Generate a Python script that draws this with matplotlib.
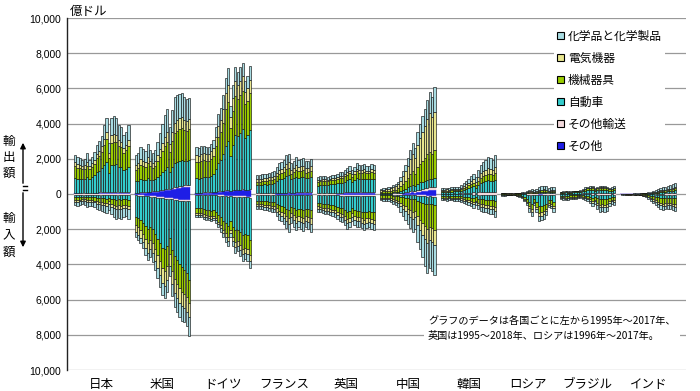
import matplotlib
matplotlib.use("Agg")
import numpy as np
import matplotlib.pyplot as plt
from matplotlib.patches import Patch
from matplotlib.lines import Line2D
from matplotlib.ticker import FuncFormatter

plt.rcParams["font.family"] = ["Noto Sans CJK JP", "DejaVu Sans"]

# legend order (top to bottom)
categories = ["化学品と化学製品", "電気機器", "機械器具", "自動車", "その他輸送", "その他"]
cat_colors = ["#a8dce2", "#e8e68e", "#99cc00", "#33cccc", "#f2d9dc", "#1e1ee6"]

countries = ["日本", "米国", "ドイツ", "フランス", "英国", "中国", "韓国", "ロシア", "ブラジル", "インド"]

# each country: rows stacked outward from zero
# [その他, その他輸送, 自動車, 機械器具, 電気機器, 化学品と化学製品]  (億ドル)
jp_exp = [
    [30, 30, 25, 25, 25, 30, 25, 25, 30, 35, 40, 45, 50, 50, 40, 50, 50, 50, 45, 45, 40, 40, 45],
    [40, 40, 40, 35, 35, 40, 35, 35, 40, 45, 50, 55, 60, 70, 50, 70, 70, 70, 65, 65, 55, 55, 60],
    [850, 780, 800, 780, 800, 880, 800, 900, 1000, 1150, 1200, 1350, 1550, 1700, 1100, 1500, 1500, 1600, 1450, 1400, 1250, 1350, 1450],
    [650, 620, 600, 560, 570, 650, 560, 580, 650, 800, 870, 950, 1150, 1300, 850, 1300, 1350, 1250, 1150, 1150, 1000, 1050, 1200],
    [230, 220, 210, 190, 200, 240, 190, 200, 220, 270, 280, 300, 340, 380, 270, 420, 430, 380, 330, 320, 280, 300, 330],
    [400, 410, 380, 370, 380, 470, 350, 370, 420, 500, 560, 600, 770, 820, 600, 980, 1020, 970, 870, 830, 700, 720, 820],
]
jp_imp = [
    [15, 15, 15, 15, 15, 15, 15, 15, 15, 20, 20, 25, 25, 25, 20, 25, 25, 25, 25, 25, 25, 25, 25],
    [15, 15, 15, 15, 15, 15, 15, 15, 20, 20, 20, 20, 20, 25, 20, 25, 25, 25, 25, 25, 25, 25, 25],
    [140, 150, 140, 120, 120, 140, 140, 140, 150, 170, 180, 190, 200, 210, 160, 220, 250, 280, 260, 270, 250, 240, 280],
    [170, 175, 165, 145, 150, 180, 175, 170, 190, 210, 225, 240, 250, 270, 220, 280, 320, 340, 330, 340, 320, 310, 340],
    [90, 95, 90, 80, 85, 110, 100, 95, 105, 120, 125, 130, 140, 150, 130, 170, 200, 210, 200, 210, 190, 180, 200],
    [220, 230, 225, 205, 215, 260, 255, 245, 270, 310, 330, 345, 365, 420, 350, 430, 480, 520, 510, 530, 490, 470, 530],
]
us_exp = [
    [40, 50, 60, 70, 80, 90, 100, 110, 120, 140, 160, 180, 200, 230, 210, 260, 300, 330, 360, 380, 390, 400, 400],
    [30, 30, 35, 35, 35, 40, 40, 40, 45, 50, 55, 60, 70, 80, 70, 80, 90, 95, 100, 100, 100, 100, 100],
    [650, 680, 740, 700, 680, 760, 680, 640, 680, 780, 880, 1000, 1100, 1200, 950, 1200, 1350, 1400, 1420, 1430, 1400, 1380, 1430],
    [660, 710, 800, 770, 740, 870, 760, 700, 740, 880, 1020, 1200, 1350, 1450, 1150, 1450, 1700, 1750, 1800, 1850, 1750, 1700, 1750],
    [270, 290, 330, 320, 300, 360, 310, 280, 300, 360, 420, 480, 540, 580, 440, 560, 620, 630, 640, 640, 590, 560, 560],
    [550, 590, 685, 655, 615, 730, 610, 580, 615, 740, 915, 1080, 1240, 1310, 980, 1200, 1440, 1395, 1380, 1350, 1270, 1260, 1210],
]
us_imp = [
    [50, 60, 70, 80, 90, 100, 110, 120, 130, 150, 170, 190, 210, 230, 220, 250, 280, 300, 320, 330, 340, 340, 340],
    [30, 30, 35, 35, 40, 40, 40, 40, 45, 50, 55, 55, 60, 60, 55, 60, 60, 60, 60, 60, 60, 60, 60],
    [1200, 1290, 1380, 1510, 1700, 1850, 1720, 1850, 2100, 2330, 2550, 2800, 2880, 2650, 2200, 2850, 3200, 3400, 3600, 3750, 3900, 4100, 4500],
    [480, 520, 560, 620, 700, 770, 720, 770, 860, 960, 1060, 1160, 1200, 1150, 950, 1200, 1300, 1350, 1380, 1400, 1380, 1380, 1300],
    [380, 410, 440, 480, 540, 600, 560, 590, 650, 720, 780, 830, 850, 780, 650, 750, 780, 800, 820, 830, 820, 810, 800],
    [280, 300, 315, 365, 390, 390, 410, 470, 535, 580, 645, 705, 720, 680, 575, 690, 780, 790, 820, 830, 800, 810, 1050],
]
de_exp = [
    [60, 60, 65, 70, 70, 70, 80, 90, 100, 120, 130, 150, 170, 190, 150, 180, 200, 200, 200, 210, 200, 200, 210],
    [20, 20, 20, 20, 20, 20, 25, 25, 30, 35, 40, 45, 50, 55, 45, 50, 55, 55, 55, 60, 55, 55, 60],
    [820, 800, 850, 880, 850, 860, 930, 1010, 1300, 1600, 1750, 2050, 2500, 2750, 1950, 2550, 3100, 3050, 3200, 3400, 2950, 3100, 3380],
    [930, 910, 950, 960, 930, 920, 980, 1050, 1280, 1500, 1600, 1800, 2100, 2250, 1600, 1950, 2200, 2100, 2150, 2200, 1900, 1950, 2080],
    [380, 380, 390, 400, 380, 380, 400, 420, 520, 620, 680, 770, 900, 950, 650, 750, 850, 800, 820, 830, 680, 700, 760],
    [440, 430, 425, 420, 400, 400, 435, 455, 570, 675, 700, 785, 880, 955, 605, 720, 795, 745, 775, 750, 615, 695, 760],
]
de_imp = [
    [40, 40, 40, 45, 45, 50, 50, 50, 55, 65, 75, 85, 95, 105, 95, 110, 125, 125, 135, 140, 140, 145, 150],
    [20, 20, 20, 20, 20, 25, 25, 25, 25, 30, 30, 35, 35, 40, 35, 40, 45, 45, 45, 50, 50, 50, 50],
    [750, 760, 760, 800, 830, 850, 880, 850, 940, 1080, 1230, 1400, 1540, 1680, 1400, 1700, 1900, 1850, 2000, 2150, 2100, 2150, 2400],
    [270, 275, 280, 295, 300, 310, 320, 310, 340, 390, 440, 500, 560, 610, 500, 590, 680, 660, 720, 780, 760, 780, 860],
    [110, 115, 115, 120, 125, 130, 135, 130, 140, 160, 180, 200, 220, 240, 200, 240, 270, 260, 290, 300, 290, 300, 330],
    [110, 110, 115, 120, 130, 135, 140, 135, 150, 175, 195, 230, 250, 275, 220, 270, 330, 310, 360, 380, 360, 375, 410],
]
fr_exp = [
    [20, 20, 20, 20, 20, 25, 25, 25, 30, 30, 35, 35, 40, 40, 35, 35, 40, 40, 40, 40, 40, 40, 40],
    [20, 20, 20, 20, 20, 25, 25, 25, 30, 35, 35, 40, 45, 50, 40, 45, 50, 50, 50, 55, 50, 50, 55],
    [470, 470, 480, 500, 490, 520, 540, 570, 680, 780, 790, 850, 960, 1000, 760, 820, 900, 840, 860, 880, 800, 820, 860],
    [200, 200, 205, 210, 205, 215, 225, 235, 280, 310, 320, 350, 390, 410, 310, 340, 380, 350, 360, 370, 330, 340, 360],
    [150, 150, 150, 155, 150, 160, 165, 170, 200, 230, 235, 255, 285, 300, 225, 250, 280, 255, 265, 270, 240, 245, 260],
    [240, 240, 245, 245, 245, 255, 270, 275, 330, 365, 385, 420, 480, 500, 380, 410, 450, 415, 425, 435, 390, 405, 425],
]
fr_imp = [
    [20, 20, 20, 20, 20, 25, 25, 25, 30, 30, 35, 35, 40, 40, 35, 35, 40, 40, 40, 40, 40, 40, 40],
    [15, 15, 15, 15, 15, 20, 20, 20, 25, 25, 25, 30, 30, 35, 30, 30, 35, 35, 35, 35, 35, 35, 35],
    [340, 350, 355, 370, 375, 390, 400, 420, 500, 580, 620, 680, 780, 860, 660, 740, 820, 760, 800, 840, 760, 800, 860],
    [180, 185, 185, 195, 195, 205, 210, 220, 260, 305, 325, 355, 410, 450, 345, 390, 430, 400, 420, 440, 400, 420, 450],
    [125, 125, 130, 135, 140, 145, 150, 155, 185, 215, 230, 250, 290, 320, 245, 275, 305, 280, 295, 310, 280, 295, 320],
    [170, 175, 175, 185, 185, 195, 195, 210, 250, 295, 315, 350, 400, 445, 335, 380, 420, 385, 410, 435, 385, 410, 445],
]
uk_exp = [
    [20, 20, 20, 20, 20, 20, 25, 25, 25, 25, 25, 30, 30, 35, 30, 35, 35, 35, 35, 35, 35, 35, 35, 35],
    [40, 40, 45, 45, 45, 50, 50, 50, 55, 55, 55, 60, 65, 70, 60, 70, 75, 75, 75, 75, 70, 70, 75, 75],
    [420, 440, 470, 450, 440, 470, 490, 490, 520, 560, 560, 610, 680, 720, 600, 700, 790, 740, 740, 770, 720, 720, 770, 740],
    [210, 220, 230, 220, 215, 230, 245, 245, 250, 280, 280, 300, 330, 350, 300, 340, 385, 360, 360, 370, 350, 350, 370, 360],
    [90, 95, 100, 95, 90, 100, 105, 105, 110, 120, 120, 130, 140, 150, 125, 145, 160, 155, 155, 160, 150, 150, 160, 155],
    [170, 185, 185, 170, 170, 180, 185, 185, 190, 210, 210, 220, 255, 275, 235, 260, 305, 285, 285, 290, 275, 275, 290, 285],
]
uk_imp = [
    [20, 20, 20, 25, 25, 25, 25, 25, 30, 30, 30, 35, 40, 40, 30, 35, 35, 35, 40, 40, 40, 40, 40, 40],
    [40, 40, 45, 45, 45, 50, 50, 55, 55, 60, 65, 70, 80, 75, 60, 70, 75, 75, 80, 80, 80, 75, 80, 80],
    [450, 475, 500, 520, 520, 540, 560, 590, 630, 700, 720, 790, 900, 850, 700, 790, 830, 830, 880, 920, 880, 860, 900, 920],
    [200, 210, 220, 230, 230, 240, 250, 260, 280, 310, 320, 350, 400, 380, 310, 350, 370, 370, 390, 410, 390, 380, 400, 410],
    [120, 125, 130, 140, 140, 145, 150, 155, 170, 185, 190, 210, 240, 230, 185, 210, 220, 225, 235, 245, 235, 225, 240, 245],
    [170, 180, 185, 190, 190, 200, 215, 215, 235, 265, 275, 295, 340, 325, 265, 295, 320, 315, 325, 355, 325, 320, 340, 355],
]
cn_exp = [
    [10, 10, 10, 12, 14, 16, 18, 22, 30, 40, 50, 60, 75, 90, 80, 110, 130, 150, 170, 190, 210, 200, 230],
    [10, 10, 12, 12, 14, 16, 18, 22, 30, 40, 50, 60, 75, 90, 85, 110, 125, 140, 155, 170, 180, 175, 190],
    [40, 42, 45, 50, 55, 65, 72, 90, 120, 160, 200, 250, 300, 340, 290, 370, 400, 420, 440, 460, 470, 450, 470],
    [80, 85, 95, 100, 110, 130, 145, 180, 250, 340, 430, 540, 660, 770, 700, 940, 1070, 1190, 1300, 1430, 1540, 1450, 1610],
    [90, 96, 105, 114, 127, 153, 177, 226, 310, 430, 560, 700, 860, 1000, 910, 1240, 1450, 1650, 1820, 2030, 2210, 2100, 2180],
    [70, 77, 83, 92, 100, 120, 130, 160, 210, 290, 360, 440, 530, 610, 535, 730, 825, 900, 965, 1070, 1190, 1125, 1420],
]
cn_imp = [
    [10, 10, 10, 12, 14, 16, 18, 20, 25, 30, 35, 40, 45, 50, 45, 60, 70, 80, 85, 95, 90, 95, 100],
    [10, 10, 10, 10, 12, 14, 16, 18, 20, 22, 25, 28, 30, 32, 30, 38, 42, 45, 48, 50, 48, 48, 50],
    [40, 45, 45, 45, 50, 60, 65, 80, 110, 140, 150, 180, 210, 230, 220, 300, 350, 380, 420, 450, 420, 440, 470],
    [140, 150, 155, 160, 175, 210, 230, 275, 360, 440, 500, 580, 650, 700, 650, 870, 1000, 1120, 1260, 1380, 1300, 1330, 1430],
    [60, 65, 70, 75, 80, 100, 110, 130, 180, 230, 270, 320, 370, 410, 380, 510, 600, 680, 760, 830, 770, 800, 850],
    [90, 100, 110, 118, 129, 160, 181, 227, 305, 388, 470, 552, 645, 728, 675, 922, 1088, 1295, 1527, 1695, 1572, 1637, 1700],
]
kr_exp = [
    [5, 5, 5, 5, 5, 6, 6, 7, 8, 10, 12, 13, 15, 17, 15, 18, 20, 20, 20, 20, 20, 20, 20],
    [20, 20, 20, 20, 22, 25, 22, 25, 30, 40, 45, 55, 65, 75, 65, 85, 100, 105, 110, 110, 100, 95, 100],
    [100, 105, 110, 105, 115, 125, 115, 125, 150, 195, 225, 265, 300, 345, 280, 400, 490, 540, 590, 640, 630, 600, 680],
    [55, 57, 60, 58, 65, 72, 65, 72, 85, 110, 130, 155, 180, 210, 175, 245, 300, 330, 350, 370, 360, 345, 390],
    [60, 62, 63, 60, 68, 75, 68, 75, 90, 115, 130, 150, 170, 190, 160, 230, 270, 290, 310, 340, 330, 320, 360],
    [90, 91, 92, 92, 105, 117, 104, 116, 137, 180, 208, 242, 270, 313, 255, 372, 470, 515, 570, 620, 610, 570, 650],
]
kr_imp = [
    [5, 5, 5, 5, 5, 5, 5, 5, 6, 7, 8, 9, 10, 11, 10, 12, 13, 13, 14, 15, 15, 15, 15],
    [10, 10, 10, 9, 9, 10, 10, 10, 11, 13, 14, 15, 17, 19, 16, 20, 22, 23, 24, 25, 25, 25, 28],
    [90, 95, 100, 90, 92, 105, 100, 103, 116, 140, 153, 170, 188, 205, 170, 225, 260, 265, 280, 290, 305, 305, 345],
    [95, 97, 102, 92, 95, 108, 102, 105, 118, 143, 157, 173, 192, 210, 175, 230, 265, 270, 283, 297, 310, 310, 350],
    [55, 57, 60, 53, 55, 64, 60, 62, 70, 84, 92, 102, 113, 124, 104, 136, 156, 160, 167, 175, 183, 183, 208],
    [95, 96, 103, 91, 94, 108, 103, 105, 119, 143, 156, 171, 190, 211, 175, 227, 264, 269, 282, 298, 312, 312, 354],
]
ru_exp = [
    [3, 3, 3, 3, 3, 3, 3, 4, 5, 6, 8, 10, 12, 8, 10, 12, 14, 15, 14, 12, 12, 13],
    [10, 10, 9, 8, 9, 10, 11, 13, 15, 18, 22, 28, 32, 25, 30, 40, 45, 48, 45, 38, 40, 45],
    [5, 5, 5, 4, 5, 5, 6, 8, 10, 14, 20, 30, 38, 22, 32, 45, 55, 57, 52, 40, 45, 50],
    [12, 12, 11, 10, 11, 12, 13, 16, 20, 26, 36, 50, 60, 40, 55, 75, 90, 95, 88, 70, 75, 85],
    [5, 5, 4, 4, 4, 5, 6, 7, 9, 12, 17, 25, 30, 20, 28, 38, 45, 47, 44, 35, 38, 42],
    [25, 25, 23, 21, 23, 25, 26, 32, 41, 54, 77, 107, 128, 85, 125, 170, 201, 208, 197, 155, 170, 185],
]
ru_imp = [
    [2, 2, 2, 1, 1, 2, 2, 3, 5, 8, 12, 20, 25, 13, 21, 31, 30, 28, 24, 15, 16, 20],
    [3, 3, 2, 2, 2, 2, 3, 5, 7, 12, 19, 30, 37, 20, 31, 46, 45, 42, 36, 22, 24, 30],
    [36, 36, 32, 24, 24, 32, 44, 64, 96, 160, 248, 400, 500, 260, 420, 620, 600, 560, 480, 300, 320, 400],
    [22, 22, 20, 15, 15, 20, 28, 40, 60, 100, 155, 250, 312, 162, 262, 388, 375, 350, 300, 188, 200, 250],
    [11, 11, 10, 7, 7, 10, 13, 19, 29, 48, 74, 120, 150, 78, 126, 186, 180, 168, 144, 90, 96, 120],
    [16, 16, 14, 11, 11, 14, 20, 29, 43, 72, 112, 180, 226, 117, 190, 279, 270, 252, 216, 135, 144, 180],
]
br_exp = [
    [3, 3, 4, 3, 3, 4, 4, 4, 5, 6, 8, 8, 9, 10, 7, 8, 10, 9, 10, 8, 7, 8, 9],
    [10, 12, 14, 14, 12, 20, 22, 22, 20, 25, 30, 35, 37, 40, 30, 32, 35, 35, 38, 35, 30, 30, 35],
    [55, 60, 72, 68, 60, 70, 75, 75, 95, 125, 160, 175, 185, 195, 130, 170, 195, 190, 195, 170, 145, 155, 185],
    [35, 37, 45, 42, 37, 45, 47, 47, 57, 75, 95, 105, 112, 120, 83, 105, 120, 118, 120, 105, 90, 95, 112],
    [7, 8, 9, 9, 8, 9, 10, 10, 12, 15, 19, 21, 22, 24, 17, 21, 24, 24, 24, 21, 18, 19, 22],
    [30, 30, 36, 34, 30, 32, 32, 32, 41, 54, 68, 76, 85, 91, 63, 84, 96, 94, 93, 81, 70, 73, 87],
]
br_imp = [
    [6, 7, 7, 7, 5, 6, 6, 4, 4, 6, 7, 8, 10, 14, 11, 17, 20, 19, 20, 19, 14, 11, 12],
    [9, 10, 10, 10, 8, 8, 8, 7, 7, 8, 10, 12, 16, 21, 17, 26, 30, 29, 30, 29, 21, 17, 18],
    [75, 82, 88, 85, 68, 70, 70, 55, 55, 70, 82, 100, 130, 175, 138, 212, 250, 238, 250, 238, 175, 138, 150],
    [90, 99, 105, 102, 81, 84, 84, 66, 66, 84, 99, 120, 156, 210, 165, 255, 300, 285, 300, 285, 210, 165, 180],
    [45, 50, 52, 51, 40, 42, 42, 33, 33, 42, 50, 60, 78, 105, 82, 128, 150, 142, 150, 142, 105, 82, 90],
    [75, 82, 88, 85, 68, 70, 70, 55, 55, 70, 82, 100, 130, 175, 137, 212, 250, 237, 250, 237, 175, 137, 150],
]
in_exp = [
    [1, 1, 1, 1, 1, 1, 1, 1, 1, 2, 2, 2, 3, 4, 4, 5, 7, 8, 8, 10, 10, 12, 13],
    [1, 1, 1, 1, 2, 2, 2, 2, 3, 3, 4, 6, 7, 9, 10, 13, 17, 19, 21, 24, 26, 29, 32],
    [5, 6, 6, 6, 7, 8, 9, 10, 13, 16, 21, 27, 35, 45, 50, 65, 85, 95, 105, 120, 130, 145, 160],
    [4, 4, 5, 5, 5, 6, 7, 8, 10, 13, 17, 22, 28, 36, 40, 52, 68, 76, 84, 96, 104, 116, 128],
    [2, 2, 2, 2, 2, 2, 3, 3, 4, 5, 7, 9, 11, 14, 16, 21, 27, 30, 34, 38, 42, 46, 51],
    [7, 8, 10, 10, 11, 11, 13, 16, 19, 26, 34, 44, 56, 72, 80, 104, 136, 152, 168, 192, 208, 232, 256],
]
in_imp = [
    [1, 1, 1, 1, 1, 1, 1, 1, 2, 2, 4, 5, 8, 10, 12, 15, 17, 18, 18, 17, 17, 18, 19],
    [1, 1, 1, 1, 1, 1, 2, 2, 2, 4, 5, 8, 11, 15, 18, 22, 25, 27, 26, 25, 26, 27, 28],
    [6, 7, 8, 8, 8, 9, 10, 12, 16, 24, 36, 52, 76, 100, 120, 150, 170, 180, 176, 170, 174, 180, 190],
    [11, 12, 14, 14, 14, 16, 17, 21, 28, 42, 63, 91, 133, 175, 210, 263, 298, 315, 308, 298, 305, 315, 333],
    [4, 5, 6, 6, 6, 7, 8, 9, 12, 18, 27, 39, 57, 75, 90, 112, 127, 135, 132, 127, 130, 135, 142],
    [7, 9, 10, 10, 10, 11, 12, 15, 20, 30, 45, 65, 95, 125, 150, 188, 213, 225, 220, 213, 218, 225, 238],
]

exports = [jp_exp, us_exp, de_exp, fr_exp, uk_exp, cn_exp, kr_exp, ru_exp, br_exp, in_exp]
imports = [jp_imp, us_imp, de_imp, fr_imp, uk_imp, cn_imp, kr_imp, ru_imp, br_imp, in_imp]

W, H = 700, 391
fig = plt.figure(figsize=(7, 3.91), dpi=100)
ax = fig.add_axes([67 / W, 21 / H, 619 / W, 352 / H])

stack_colors = cat_colors[::-1]  # from zero outward
gap = 2
x0 = 0
centers = []
for exp, imp in zip(exports, imports):
    n = len(exp[0])
    xs = np.arange(n) + x0
    base_e = np.zeros(n)
    base_i = np.zeros(n)
    for k in range(6):
        e = np.array(exp[k], dtype=float)
        m = np.array(imp[k], dtype=float)
        if k < 2:
            # small segments near zero: solid bands, no outlines
            w, ec, lw = 1.0, stack_colors[k], 0.3
        else:
            w, ec, lw = 0.92, "#111111", 0.45
        ax.bar(xs, e, w, bottom=base_e, color=stack_colors[k], edgecolor=ec, linewidth=lw, zorder=2)
        ax.bar(xs, -m, w, bottom=-base_i, color=stack_colors[k], edgecolor=ec, linewidth=lw, zorder=2)
        base_e += e
        base_i += m
    centers.append(xs.mean())
    x0 += n + gap

ax.set_xlim(-3.3, x0 - gap - 1 + 4.5)
ax.set_ylim(-10000, 10000)
ax.set_yticks(np.arange(-10000, 10001, 2000))
ax.yaxis.set_major_formatter(FuncFormatter(lambda v, p: f"{abs(int(v)):,}"))
ax.yaxis.grid(True, color="#999999", linewidth=0.9)
ax.set_axisbelow(True)
ax.set_xticks(centers)
ax.set_xticklabels(countries, fontsize=9)
ax.tick_params(axis="x", length=0, pad=6)
ax.tick_params(axis="y", length=0, pad=4, labelsize=7.5)
for lab in ax.get_yticklabels():
    lab.set_fontfamily(["Liberation Sans", "DejaVu Sans"])
for s in ["top", "right", "bottom"]:
    ax.spines[s].set_visible(False)
ax.spines["left"].set_color("#222222")
ax.spines["left"].set_linewidth(1.0)

fig.text(70 / W, 1 - 11 / H, "億ドル", fontsize=9, ha="left", va="center")

# export / import markers on the left
for ch, y in zip("輸出額", [141, 157, 173]):
    fig.text(9 / W, 1 - y / H, ch, fontsize=9, ha="center", va="center")
for ch, y in zip("輸入額", [218, 235, 252]):
    fig.text(9 / W, 1 - y / H, ch, fontsize=9, ha="center", va="center")
ax.annotate("", xy=(23, H - 140), xytext=(23, H - 186), xycoords="figure pixels",
            textcoords="figure pixels",
            arrowprops=dict(arrowstyle="-|>", color="black", lw=1.0, mutation_scale=8))
ax.annotate("", xy=(23, H - 250), xytext=(23, H - 190), xycoords="figure pixels",
            textcoords="figure pixels",
            arrowprops=dict(arrowstyle="-|>", color="black", lw=1.0, mutation_scale=8))
fig.add_artist(Line2D([23 / W, 27 / W], [1 - 186 / H, 1 - 186 / H], color="black", lw=1.0))
fig.add_artist(Line2D([23 / W, 27 / W], [1 - 190 / H, 1 - 190 / H], color="black", lw=1.0))

handles = [Patch(facecolor=c, edgecolor="black", linewidth=0.8) for c in cat_colors]
fig.legend(handles, categories, loc="upper left", bbox_to_anchor=(548 / W, 1 - 21 / H),
           frameon=True, facecolor="white", edgecolor="none", framealpha=1, fancybox=False,
           fontsize=8.5, handlelength=0.6, handleheight=0.6, handletextpad=0.35,
           labelspacing=0.76, borderpad=0.25)

fig.text(428 / W, 1 - 316 / H,
         "グラフのデータは各国ごとに左から1995年～2017年、\n英国は1995～2018年、ロシアは1996年～2017年。",
         fontsize=7.3, ha="left", va="top", linespacing=1.6,
         bbox=dict(facecolor="white", edgecolor="none", pad=3))

fig.savefig("out.png", dpi=100)
